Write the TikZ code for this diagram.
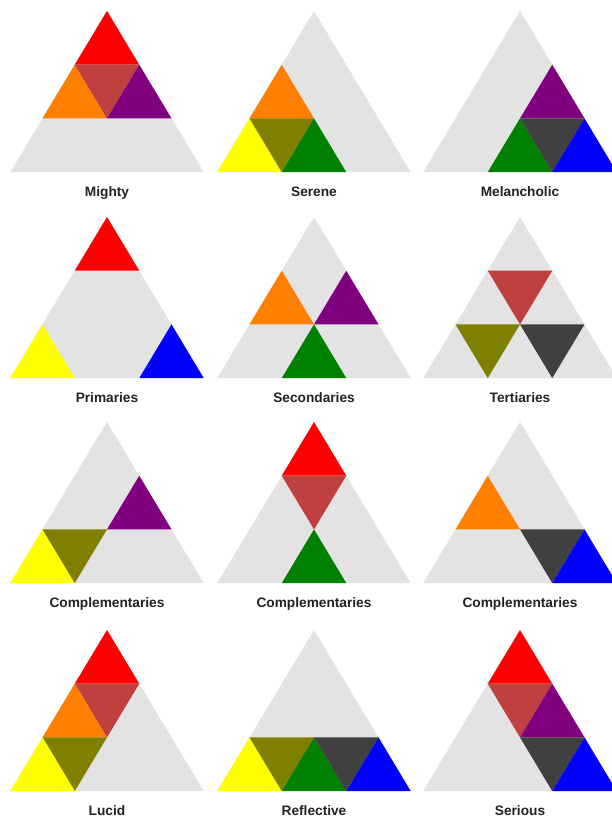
\documentclass[tikz,border=0pt]{standalone}
\usepackage{fontspec}
\setmainfont{Liberation Sans}
\definecolor{pgrey}{HTML}{E3E3E3}
\definecolor{cred}{HTML}{FF0000}
\definecolor{corange}{HTML}{FF7F00}
\definecolor{cyellow}{HTML}{FFFF00}
\definecolor{cgreen}{HTML}{008000}
\definecolor{cblue}{HTML}{0000FF}
\definecolor{cpurple}{HTML}{800080}
\definecolor{ctred}{HTML}{C04040}
\definecolor{colive}{HTML}{808000}
\definecolor{cslate}{HTML}{404040}
\definecolor{labelink}{HTML}{222222}
\tikzset{
  every picture/.style={line join=round, line cap=round},
  panellabel/.style={font=\fontsize{13.7}{15}\selectfont\bfseries, text=labelink, inner sep=0pt, anchor=base},
}
% #1,#2 apex, #3 node name, #4 label, #5 cells type/row/pos/colour
\newcommand{\colorpanel}[5]{%
  \begin{scope}[shift={(#1,#2)}, x=64.5pt, y=-53.7pt]
    \fill[pgrey] (0,0) -- (-1.5,3) -- (1.5,3) -- cycle;
    \foreach \t/\r/\k/\c in {#5}{
      \if\t u
        \fill[\c] ({\k-\r/2},\r) -- ({\k-(\r+1)/2},\r+1) -- ({\k+1-(\r+1)/2},\r+1) -- cycle;
      \else
        \fill[\c] ({\k-\r/2},\r) -- ({\k+1-\r/2},\r) -- ({\k+1-(\r+1)/2},\r+1) -- cycle;
      \fi
    }
    \node[panellabel] (#3) at ([yshift=-24pt]0,3) {#4};
  \end{scope}}

\begin{document}
\begin{tikzpicture}[x=1pt, y=-1pt]
\fill[white] (0,0) rectangle (611,818);
\useasboundingbox (0,0) rectangle (611,818);
% row 1
\colorpanel{107}{11}{mighty}{Mighty}{u/0/0/cred, u/1/0/corange, d/1/0/ctred, u/1/1/cpurple}
\colorpanel{314}{11}{serene}{Serene}{u/1/0/corange, u/2/0/cyellow, d/2/0/colive, u/2/1/cgreen}
\colorpanel{520}{11}{melancholic}{Melancholic}{u/1/1/cpurple, u/2/1/cgreen, d/2/1/cslate, u/2/2/cblue}
% row 2
\colorpanel{107}{217}{primaries}{Primaries}{u/0/0/cred, u/2/0/cyellow, u/2/2/cblue}
\colorpanel{314}{217}{secondaries}{Secondaries}{u/1/0/corange, u/1/1/cpurple, u/2/1/cgreen}
\colorpanel{520}{217}{tertiaries}{Tertiaries}{d/1/0/ctred, d/2/0/colive, d/2/1/cslate}
% row 3
\colorpanel{107}{422}{compA}{Complementaries}{u/1/1/cpurple, u/2/0/cyellow, d/2/0/colive}
\colorpanel{314}{422}{compB}{Complementaries}{u/0/0/cred, d/1/0/ctred, u/2/1/cgreen}
\colorpanel{520}{422}{compC}{Complementaries}{u/1/0/corange, d/2/1/cslate, u/2/2/cblue}
% row 4
\colorpanel{107}{630}{lucid}{Lucid}{u/0/0/cred, d/1/0/ctred, u/1/0/corange, d/2/0/colive, u/2/0/cyellow}
\colorpanel{314}{630}{reflective}{Reflective}{u/2/0/cyellow, d/2/0/colive, u/2/1/cgreen, d/2/1/cslate, u/2/2/cblue}
\colorpanel{520}{630}{serious}{Serious}{u/0/0/cred, d/1/0/ctred, u/1/1/cpurple, d/2/1/cslate, u/2/2/cblue}
\end{tikzpicture}
\end{document}
